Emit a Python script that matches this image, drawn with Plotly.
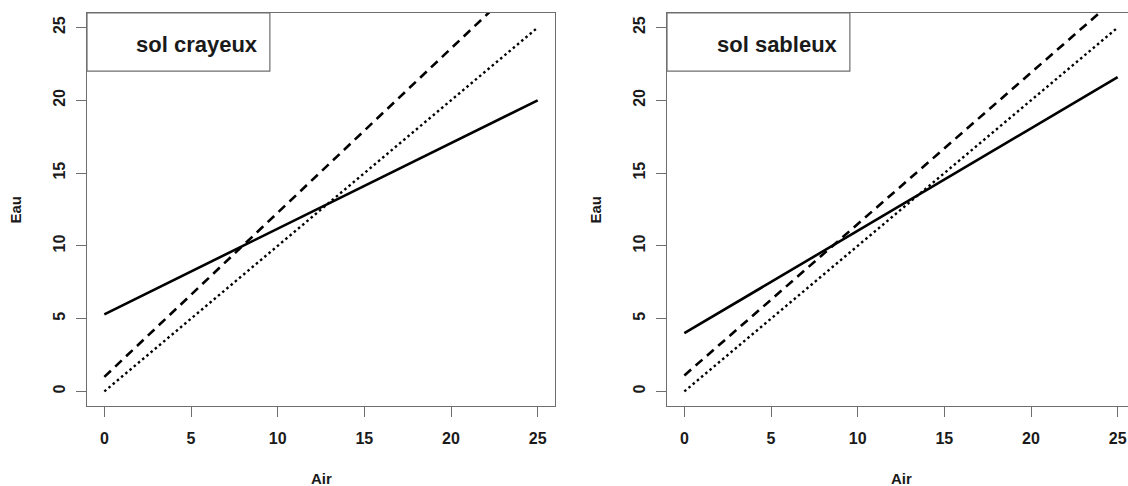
import plotly.graph_objects as go

# ---- data ----
air = [0, 25]
crayeux_obs = [5.3, 20.0]      # solid line
crayeux_mod = [1.0, 29.2]      # dashed line
sableux_obs = [4.0, 21.6]      # solid line
sableux_mod = [1.1, 27.1]      # dashed line
identity = [0, 25]             # dotted 1:1 line
panel_titles = ["sol crayeux", "sol sableux"]
tick_vals = [0, 5, 10, 15, 20, 25]
x_label = "Air"
y_label = "Eau"

W, H = 1128, 486
FONT = "Liberation Sans, Arial, sans-serif"
TXT = "#1a1a1a"
FRAME = "#6e6e6e"

# pixel layout
L1, R1 = 87, 555
L2 = 667
TOP, BOT = 13, 406
px_per_unit = (R1 - L1) / 27.0

fig = go.Figure()

def add_lines(xa, ya, obs, mod):
    fig.add_trace(go.Scatter(x=air, y=obs, mode="lines", xaxis=xa, yaxis=ya,
                             line=dict(color="black", width=2.6), showlegend=False))
    fig.add_trace(go.Scatter(x=air, y=mod, mode="lines", xaxis=xa, yaxis=ya,
                             line=dict(color="black", width=2.6, dash="9px,6px"), showlegend=False))
    fig.add_trace(go.Scatter(x=air, y=identity, mode="lines", xaxis=xa, yaxis=ya,
                             line=dict(color="black", width=2.4, dash="2.5px,3px"), showlegend=False))

add_lines("x", "y", crayeux_obs, crayeux_mod)
add_lines("x2", "y2", sableux_obs, sableux_mod)

ydom = [(H - BOT) / H, (H - TOP) / H]
x2max = -1 + (W - L2) / px_per_unit

tickfont = dict(family=FONT, size=16, color=TXT, weight="bold")
common_x = dict(tickvals=tick_vals, ticks="outside", ticklen=10, tickcolor=FRAME, tickwidth=1,
                showline=True, linecolor=FRAME, linewidth=1.2, showgrid=False, zeroline=False,
                tickfont=tickfont, ticklabelstandoff=8, automargin=False, fixedrange=True)
common_y = dict(tickvals=tick_vals, ticks="outside", ticklen=10, tickcolor=FRAME, tickwidth=1,
                showline=True, linecolor=FRAME, linewidth=1.2, showgrid=False, zeroline=False,
                tickfont=tickfont, tickangle=-90, ticklabelstandoff=5, automargin=False,
                range=[-1, 26], fixedrange=True)

fig.update_layout(
    width=W, height=H,
    margin=dict(l=0, r=0, t=0, b=0),
    paper_bgcolor="white", plot_bgcolor="white",
    xaxis=dict(domain=[L1 / W, R1 / W], range=[-1, 26], anchor="y", mirror=True, **common_x),
    yaxis=dict(domain=ydom, anchor="x", mirror=True, **common_y),
    xaxis2=dict(domain=[L2 / W, 1.0], range=[-1, x2max], anchor="y2", mirror=True, **common_x),
    yaxis2=dict(domain=ydom, anchor="x2", mirror=False, **common_y),
)

# legend-like boxes and texts
for i, (xr, yr) in enumerate([("x", "y"), ("x2", "y2")]):
    fig.add_shape(type="rect", xref=xr, yref=yr, x0=-1, x1=9.55, y0=22.0, y1=26,
                  line=dict(color=FRAME, width=1.2), fillcolor="white", layer="below")
    fig.add_annotation(xref=xr, yref=yr, x=9.0, y=23.85, text=panel_titles[i],
                       showarrow=False, xanchor="right", yanchor="middle",
                       font=dict(family=FONT, size=22, color=TXT, weight="bold"))

# axis titles
for (lft, rgt) in [(L1, R1), (L2, L2 + (R1 - L1))]:
    fig.add_annotation(xref="paper", yref="paper", x=(lft + rgt) / 2 / W, y=(H - 478) / H,
                       text=x_label, showarrow=False, xanchor="center", yanchor="middle",
                       font=dict(family=FONT, size=15, color=TXT, weight="bold"))
for lft in [L1, L2]:
    fig.add_annotation(xref="paper", yref="paper", x=(lft - 72) / W, y=(H - (TOP + BOT) / 2) / H,
                       text=y_label, showarrow=False, textangle=-90, xanchor="center",
                       yanchor="middle",
                       font=dict(family=FONT, size=15, color=TXT, weight="bold"))

fig.write_html("out.html", config={"displayModeBar": False},
               post_script="document.body.style.margin='0';document.body.style.overflow='hidden';")
